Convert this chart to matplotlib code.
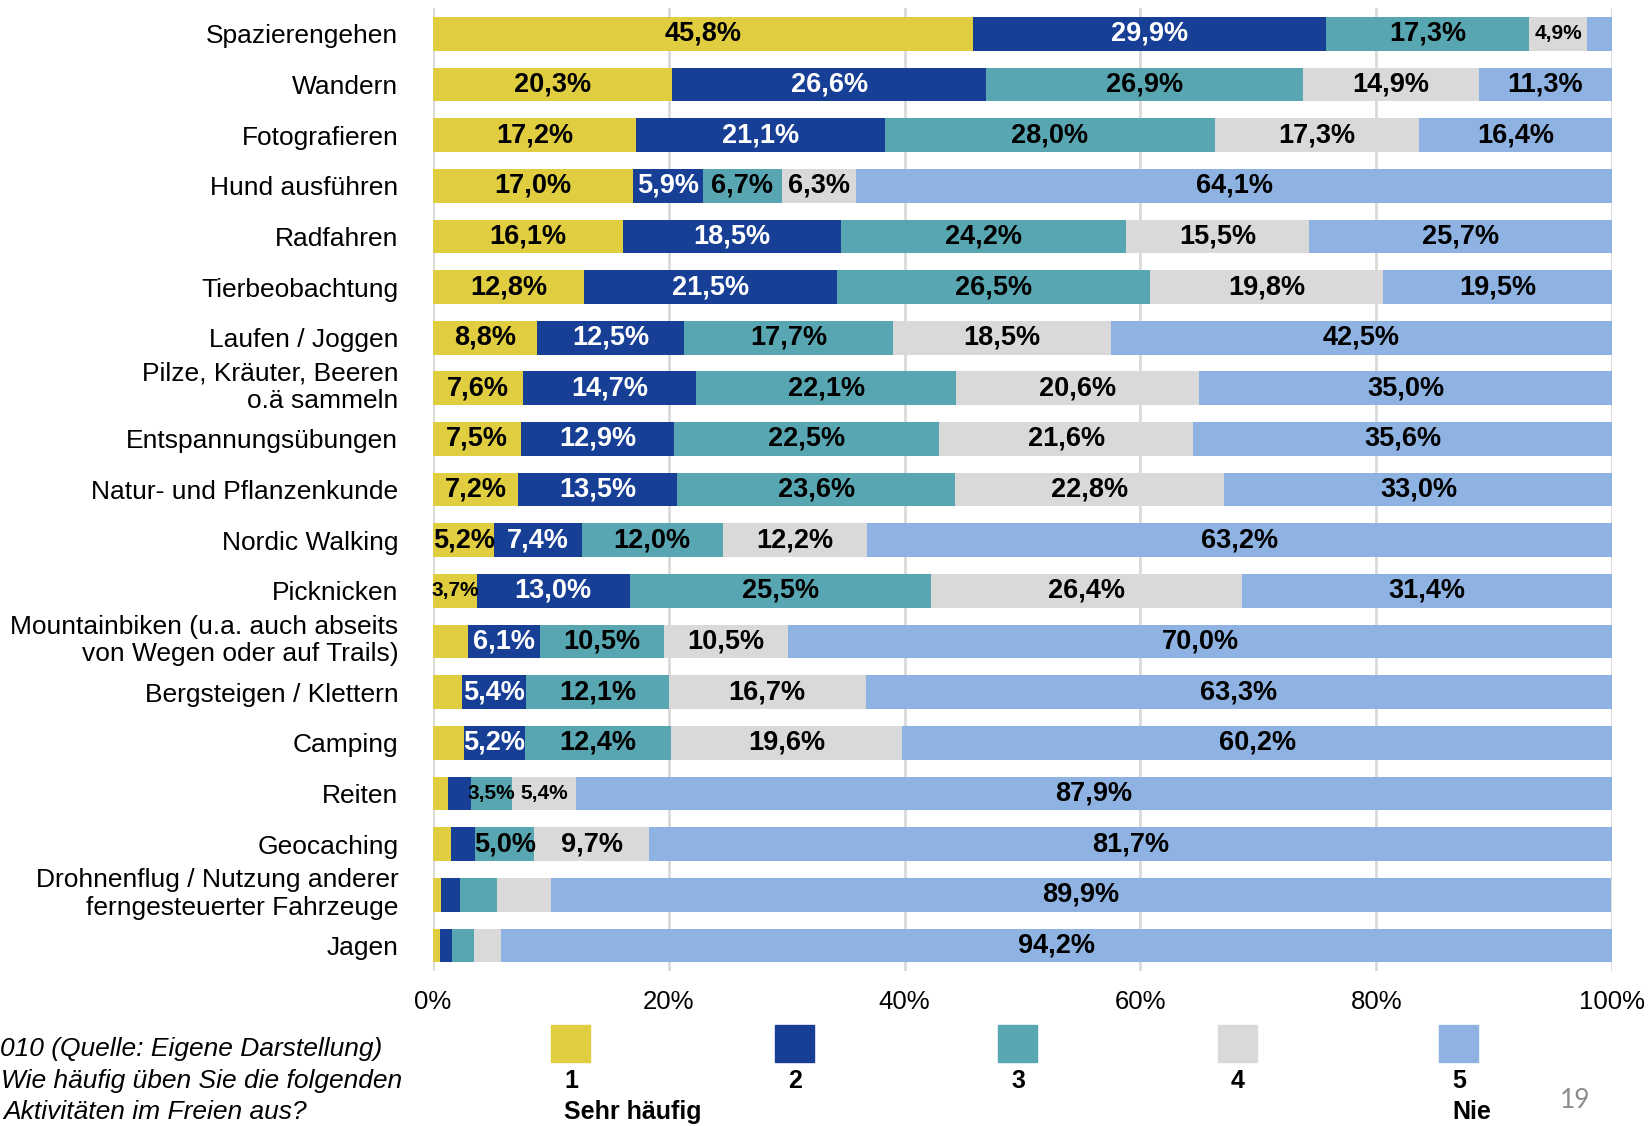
import numpy as np
import matplotlib.pyplot as plt
from matplotlib.patches import Rectangle
from matplotlib.transforms import ScaledTranslation

plt.rcParams['font.family'] = ['Liberation Sans', 'DejaVu Sans']

# data (Anteile in %)
categories = [
    "Spazierengehen", "Wandern", "Fotografieren", "Hund ausführen", "Radfahren",
    "Tierbeobachtung", "Laufen / Joggen", "Pilze, Kräuter, Beeren\no.ä sammeln",
    "Entspannungsübungen", "Natur- und Pflanzenkunde", "Nordic Walking", "Picknicken",
    "Mountainbiken (u.a. auch abseits\nvon Wegen oder auf Trails)",
    "Bergsteigen / Klettern", "Camping", "Reiten", "Geocaching",
    "Drohnenflug / Nutzung anderer\nferngesteuerter Fahrzeuge", "Jagen",
]
stufe_1 = [45.8, 20.3, 17.2, 17.0, 16.1, 12.8, 8.8, 7.6, 7.5, 7.2, 5.2, 3.7, 3.0, 2.5, 2.6, 1.3, 1.5, 0.7, 0.6]
stufe_2 = [29.9, 26.6, 21.1, 5.9, 18.5, 21.5, 12.5, 14.7, 12.9, 13.5, 7.4, 13.0, 6.1, 5.4, 5.2, 1.9, 2.1, 1.6, 1.0]
stufe_3 = [17.3, 26.9, 28.0, 6.7, 24.2, 26.5, 17.7, 22.1, 22.5, 23.6, 12.0, 25.5, 10.5, 12.1, 12.4, 3.5, 5.0, 3.1, 1.9]
stufe_4 = [4.9, 14.9, 17.3, 6.3, 15.5, 19.8, 18.5, 20.6, 21.6, 22.8, 12.2, 26.4, 10.5, 16.7, 19.6, 5.4, 9.7, 4.6, 2.3]
stufe_5 = [2.1, 11.3, 16.4, 64.1, 25.7, 19.5, 42.5, 35.0, 35.6, 33.0, 63.2, 31.4, 70.0, 63.3, 60.2, 87.9, 81.7, 89.9, 94.2]

legend_nums = ["1", "2", "3", "4", "5"]
legend_text = ["Sehr häufig", "", "", "", "Nie"]
colors = ["#E0CD40", "#173F96", "#57A6B1", "#D9D9D9", "#8EB3E2"]
label_colors = ["black", "white", "black", "black", "black"]

# labels that are not printed / printed small (row, segment)
hidden = [(17, 3)]
small = [(0, 3), (11, 0), (15, 2), (15, 3)]

fig = plt.figure(figsize=(16.49, 11.26), dpi=100)
W, H = 1649, 1126
ax = fig.add_axes([433 / W, 0.1378, (1612 - 433) / W, 0.8547])

series = [stufe_1, stufe_2, stufe_3, stufe_4, stufe_5]
y = np.arange(len(categories))
left = np.zeros(len(categories))
for s, (vals, c) in enumerate(zip(series, colors)):
    vals = np.array(vals)
    ax.barh(y, vals, left=left, height=0.665, color=c, zorder=3)
    for i, v in enumerate(vals):
        if v < 3.5 or (i, s) in hidden:
            continue
        fs = 15 if (i, s) in small else 19.5
        ax.text(left[i] + v / 2, y[i], f"{v:.1f}".replace(".", ",") + "%",
                ha="center", va="center", fontsize=fs, fontweight="bold",
                color=label_colors[s], zorder=4)
    left += vals

ax.set_xlim(0, 100)
ax.set_ylim(len(categories) - 0.5, -0.5)
ax.set_yticks(y)
ax.set_yticklabels(categories, fontsize=19, linespacing=1.2)
ax.set_xticks(np.arange(0, 101, 20))
ax.set_xticklabels([f"{t}%" for t in range(0, 101, 20)], fontsize=18.5)
ax.tick_params(axis="both", length=0)
ax.tick_params(axis="y", pad=25)
ax.tick_params(axis="x", pad=14)
ax.grid(axis="x", color="#D9D9D9", linewidth=2, zorder=0)
for sp in ax.spines.values():
    sp.set_visible(False)

# two-line labels sit a bit higher than the bar centre
for lbl in ax.get_yticklabels():
    if "\n" in lbl.get_text():
        lbl.set_transform(lbl.get_transform() + ScaledTranslation(0, 4 / 72, fig.dpi_scale_trans))

# legend
xs = [551, 775, 998, 1218, 1439]
for x0, c, n, t in zip(xs, colors, legend_nums, legend_text):
    fig.add_artist(Rectangle((x0 / W, 1 - 1062 / H), 39 / W, 37 / H,
                             transform=fig.transFigure, color=c))
    fig.text((x0 + 13) / W, 1 - 1081 / H, n, fontsize=18, fontweight="bold",
             va="center", ha="left")
    if t:
        fig.text((x0 + 13) / W, 1 - 1112 / H, t, fontsize=18, fontweight="bold",
                 va="center", ha="left")

# source note at bottom left (begins at the page edge)
fig.text(0, 1 - 1049 / H, "010 (Quelle: Eigene Darstellung)",
         fontsize=19, style="italic", ha="left", va="center")
fig.text(1 / W, 1 - 1081 / H, "Wie häufig üben Sie die folgenden",
         fontsize=19, style="italic", ha="left", va="center")
fig.text(3 / W, 1 - 1112 / H, "Aktivitäten im Freien aus?",
         fontsize=19, style="italic", ha="left", va="center")

fig.text(1575 / W, 1 - 1100 / H, "19", fontsize=19, color="#8C8C8C",
         ha="center", va="center", family="Lato")

fig.savefig("out.png", dpi=100)
